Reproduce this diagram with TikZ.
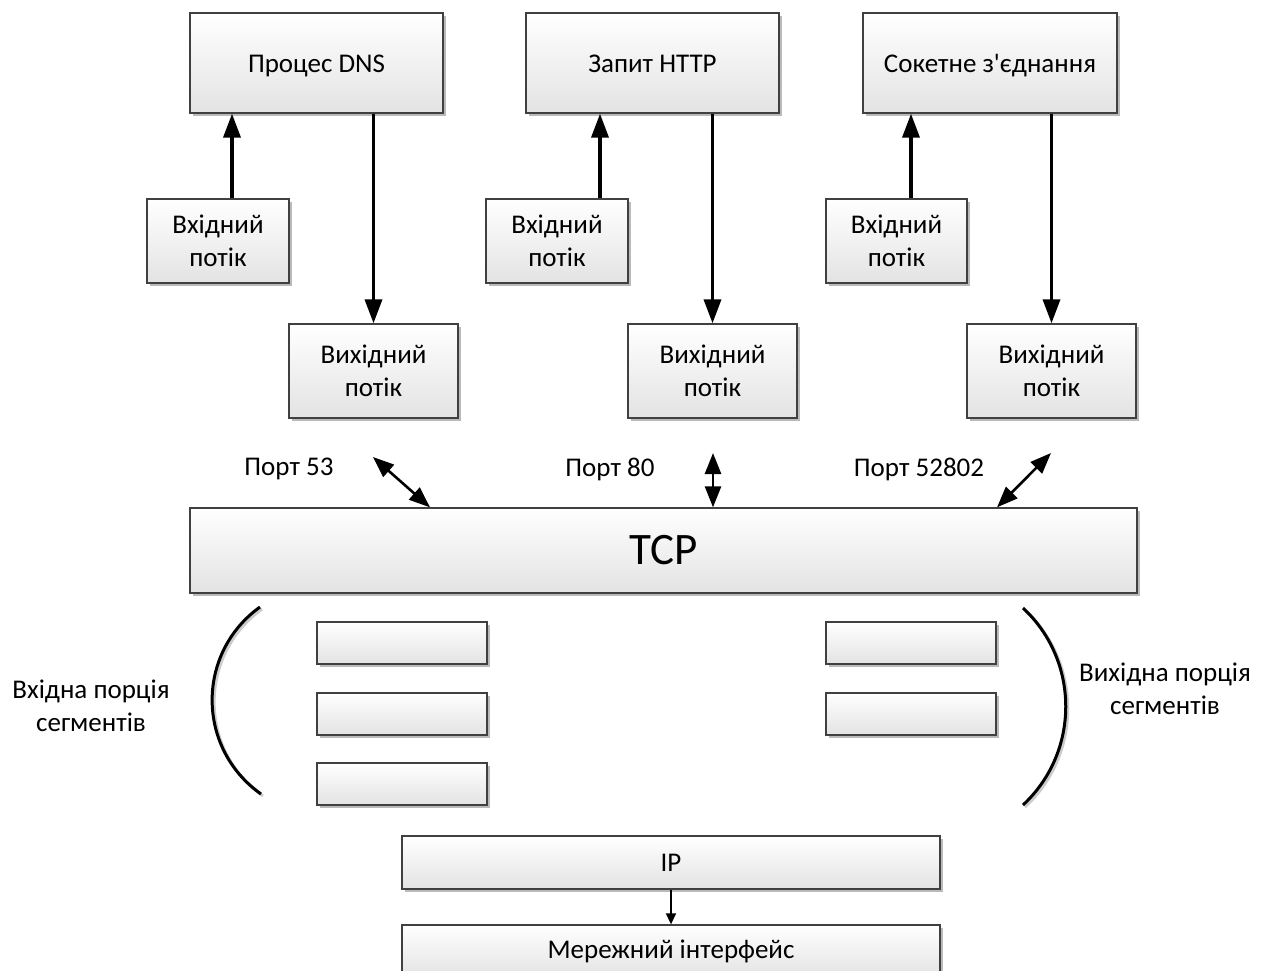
\documentclass[tikz,border=0pt]{standalone}
\usepackage{fontspec}
\setmainfont{Carlito}[Ligatures=TeXOff]
\usetikzlibrary{arrows.meta,shadows}
\begin{document}
\begin{tikzpicture}[x=1pt,y=-1pt,
  box/.style={draw=black!75,line width=1.3pt,top color=white,bottom color=black!11,
    drop shadow={shadow xshift=3pt,shadow yshift=-3pt,fill=black!45,opacity=0.6},
    inner sep=0pt,align=center,font=\fontsize{27}{33}\selectfont},
  oneline/.style={text height=20pt,text depth=1pt},
  lbl/.style={inner sep=0pt,align=center,font=\fontsize{27}{33}\selectfont},
  flow/.style={line width=3.5pt,-{Triangle[length=24pt,width=17pt]}},
  port/.style={line width=2.6pt,{Triangle[length=21pt,width=16pt]}-{Triangle[length=21pt,width=16pt]}},
  small/.style={line width=1.5pt,-{Triangle[length=11pt,width=10pt]}},
  bracket/.style={line width=3pt}]
\useasboundingbox (0,0) rectangle (1264,971);

% top boxes
\node[box,oneline,minimum width=253pt,minimum height=100pt] (dns) at (316.5,63) {Процес DNS};
\node[box,oneline,minimum width=253pt,minimum height=100pt] (http) at (652.5,63) {Запит HTTP};
\node[box,oneline,minimum width=254pt,minimum height=100pt] (sock) at (990,63) {Сокетне з'єднання};

% input streams
\node[box,minimum width=142pt,minimum height=84pt] (in1) at (218,241) {Вхідний\\потік};
\node[box,minimum width=142pt,minimum height=84pt] (in2) at (557,241) {Вхідний\\потік};
\node[box,minimum width=141pt,minimum height=84pt] (in3) at (896.5,241) {Вхідний\\потік};

% output streams
\node[box,minimum width=169pt,minimum height=94pt] (out1) at (373.5,371) {Вихідний\\потік};
\node[box,minimum width=169pt,minimum height=94pt] (out2) at (712.5,371) {Вихідний\\потік};
\node[box,minimum width=169pt,minimum height=94pt] (out3) at (1051.5,371) {Вихідний\\потік};

% TCP
\node[box,minimum width=947pt,minimum height=85pt,font=\fontsize{45}{54}\selectfont] (tcp) at (663.5,550.5) {TCP};

% segment boxes
\node[box,minimum width=170pt,minimum height=42pt] (sl1) at (402,643) {};
\node[box,minimum width=170pt,minimum height=42pt] (sl2) at (402,714) {};
\node[box,minimum width=170pt,minimum height=42pt] (sl3) at (402,784) {};
\node[box,minimum width=170pt,minimum height=42pt] (sr1) at (911,643) {};
\node[box,minimum width=170pt,minimum height=42pt] (sr2) at (911,714) {};

% IP and network interface
\node[box,minimum width=538pt,minimum height=53pt] (ip) at (671,862.5) {IP};
\node[box,minimum width=538pt,minimum height=53pt] (nif) at (671,951.5) {Мережний інтерфейс};

% flows
\draw[flow] ([xshift=14pt]in1.north) -- ([xshift=14pt]in1.north |- dns.south);
\draw[flow] (out1.north |- dns.south) -- (out1.north);
\draw[flow] ([xshift=43pt]in2.north) -- ([xshift=43pt]in2.north |- http.south);
\draw[flow] (out2.north |- http.south) -- (out2.north);
\draw[flow] ([xshift=14.5pt]in3.north) -- ([xshift=14.5pt]in3.north |- sock.south);
\draw[flow] (out3.north |- sock.south) -- (out3.north);

% ports
\coordinate (p53) at (373,457);
\coordinate (p80) at (713,453);
\coordinate (p528) at (1051,453);
\draw[port] (p53) -- (tcp.north -| 430,0);
\draw[port] (p80) -- (tcp.north -| p80);
\draw[port] (p528) -- (tcp.north -| 997,0);
\node[lbl] (l53) at (289,469) {Порт 53};
\node[lbl] (l80) at (610,469) {Порт 80};
\node[lbl] (l528) at (919,469) {Порт 52802};

% brackets
\draw[bracket,black!20] (262,609) .. controls (198,655) and (198,750) .. (263,796);
\draw[bracket] (260,607) .. controls (196,653) and (196,748) .. (261,794);
\draw[bracket,black!20] (1025,610) .. controls (1082,663) and (1082,754) .. (1025,807);
\draw[bracket] (1023,608) .. controls (1080,661) and (1080,752) .. (1023,805);
\node[lbl] (inseg) at (91,706) {Вхідна порція\\сегментів};
\node[lbl] (outseg) at (1165,689) {Вихідна порція\\сегментів};

% IP arrow
\draw[small] (ip.south) -- (nif.north);
\end{tikzpicture}
\end{document}
